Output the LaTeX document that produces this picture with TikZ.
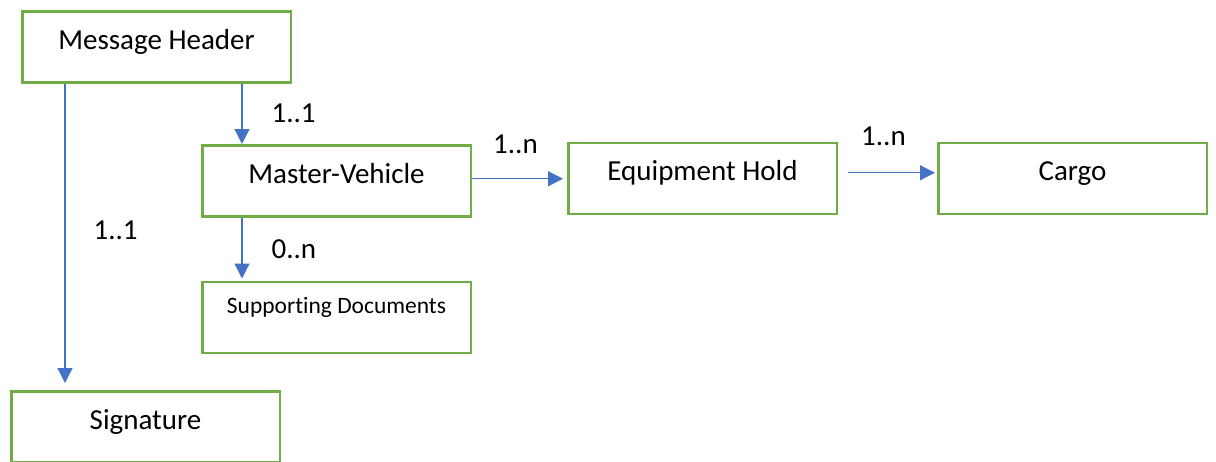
\documentclass[tikz,border=0pt]{standalone}
\usepackage{fontspec}
\setmainfont[Ligatures=NoCommon]{Carlito}
\usepackage{tikz}
\usetikzlibrary{arrows.meta, calc, positioning}

\definecolor{boxgreen}{HTML}{70AD47}
\definecolor{linkblue}{HTML}{4472C4}

\tikzset{
    entity/.style={draw=boxgreen, line width=2.5pt, minimum width=268.5pt, inner sep=0pt,
        text height=38pt, text depth=33pt, font=\fontsize{29}{34}\selectfont},
    link/.style={->, draw=linkblue, line width=1.2pt},
    mult/.style={inner sep=0pt, font=\fontsize{29}{34}\selectfont}
}

\begin{document}
\begin{tikzpicture}[x=1pt, y=-1pt, node distance=60pt, >={Triangle[length=15pt,width=15pt]}]
    \useasboundingbox (0,0) rectangle (1216,461);

    % Header
    \node [entity, anchor=north west] (header) at (21,10) {Message Header};

    % Master vehicle and documents
    \node [entity, anchor=north west] (vehicle) at (201,144) {Master-Vehicle};
    \node [entity, below=63pt of vehicle, text height=32pt, text depth=39pt,
        font=\fontsize{23.5}{28}\selectfont] (docs) {Supporting Documents};

    % Equipment and cargo
    \node [entity, right=95pt of vehicle, yshift=2.5pt] (equip) {Equipment Hold};
    \node [entity, right=99pt of equip] (cargo) {Cargo};

    % Signature
    \node [entity, anchor=north west] (sign) at (10,390) {Signature};

    % Connections
    \draw [link, shorten >=7pt] ([xshift=44pt]header.south west) -- ([xshift=55pt]sign.north west)
        node[mult, pos=0.48, right=28pt] {1..1};
    \draw [link] ([xshift=41pt]vehicle.north west |- header.south) -- ([xshift=41pt]vehicle.north west)
        node[mult, midway, right=29pt] {1..1};
    \draw [link, shorten >=2pt] ([xshift=41pt]vehicle.south west) -- ([xshift=41pt]docs.north west)
        node[mult, midway, right=29pt] {0..n};
    \draw [link, shorten >=4pt] ($(vehicle.east)+(0,-2)$) -- ($(vehicle.east -| equip.west)+(0,-2)$)
        node[mult, midway, above=24pt, xshift=-4pt] {1..n};
    \draw [link, shorten >=2pt] ($(equip.east)+(10,-5.5)$) -- ($(cargo.west)+(0,-5.5)$)
        node[mult, midway, above=26pt, xshift=-9pt] {1..n};

\end{tikzpicture}
\end{document}
